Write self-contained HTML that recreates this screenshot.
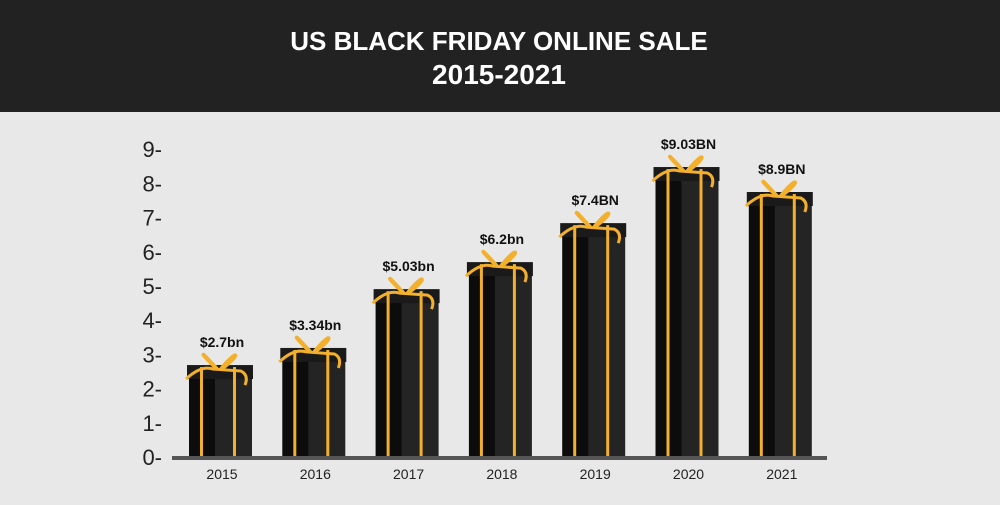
<!DOCTYPE html>
<html><head><meta charset="utf-8"><style>
body{margin:0;width:1000px;height:500px;overflow:hidden;background:#e8e8e8;font-family:"Liberation Sans",sans-serif}
</style></head><body>
<svg id="c" width="1000" height="500" xmlns="http://www.w3.org/2000/svg">
<rect x="0" y="0" width="1000" height="500" fill="#e8e8e8"/>
<rect x="0" y="0" width="1000" height="112" fill="#222"/>
<text x="499" y="50" text-anchor="middle" fill="#fff" font-size="26" font-weight="bold">US BLACK FRIDAY ONLINE SALE</text>
<text x="499" y="84" text-anchor="middle" fill="#fff" font-size="28" font-weight="bold">2015-2021</text>
<g id="g"></g>
</svg>
<script>
const years=["2015","2016","2017","2018","2019","2020","2021"];
const values=[2.63,3.13,4.85,5.64,6.78,8.42,7.69];
const valueLabels=["$2.7bn","$3.34bn","$5.03bn","$6.2bn","$7.4BN","$9.03BN","$8.9BN"];
const ticks=[0,1,2,3,4,5,6,7,8,9];
const NS="http://www.w3.org/2000/svg";
const g=document.getElementById('g');
const y0=457,pxu=34.2;
const y=v=>y0-v*pxu;
const x=i=>221+i*93.3;
function mk(t,a,p){const e=document.createElementNS(NS,t);for(const k in a)e.setAttribute(k,a[k]);(p||g).appendChild(e);return e;}
ticks.forEach(t=>{
 const e=mk('text',{x:162,y:y(t)+8,'text-anchor':'end','font-size':22,fill:'#222'});
 e.textContent=t+'-';
 
 
});
years.forEach((yr,i)=>{
 const cx=x(i),top=y(values[i]);
 const b=mk('g',{});
 
 
 mk('rect',{x:cx-32,y:top,width:27,height:y0-top,fill:'#0c0c0c'},b);
 mk('rect',{x:cx-6,y:top,width:37,height:y0-top,fill:'#242424'},b);
 mk('rect',{x:cx-34,y:top-2,width:66,height:14,fill:'#1a1a1a'},b);
 mk('rect',{x:cx-21,y:top,width:3,height:y0-top,fill:'#f2b02c'},b);
 mk('rect',{x:cx+12,y:top,width:3,height:y0-top,fill:'#f2b02c'},b);
 mk('path',{d:`M${cx-35} ${top+12} Q${cx-20} ${top-2} ${cx-8} ${top+2} L${cx+20} ${top+4} Q${cx+28} ${top+8} ${cx+24} ${top+18}`,fill:'none',stroke:'#f2b02c','stroke-width':3},b);
 mk('path',{d:`M${cx-4} ${top+2} C${cx-24} ${top-20} ${cx-20} ${top-14} ${cx-4} ${top+2} M${cx} ${top+2} C${cx+18} ${top-20} ${cx+20} ${top-12} ${cx} ${top+2}`,fill:'none',stroke:'#f2b02c','stroke-width':4},b);
 const l=mk('text',{x:cx+1,y:top-20,'text-anchor':'middle','font-size':14,'font-weight':'bold',fill:'#111'});
 l.textContent=valueLabels[i];
 
 
 const xl=mk('text',{x:cx+1,y:479,'text-anchor':'middle','font-size':14,fill:'#222'});
 xl.textContent=yr;
 
 
});
const ax=mk('rect',{x:172,y:456,width:655,height:4,fill:'#555'});


</script>
</body></html>
